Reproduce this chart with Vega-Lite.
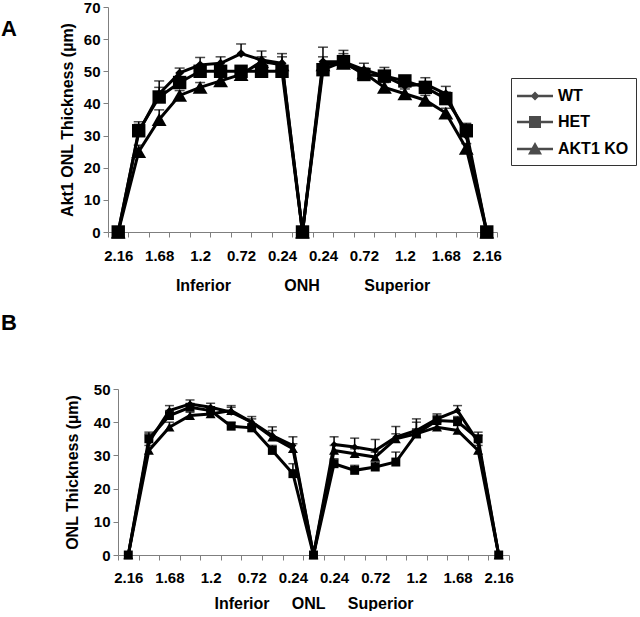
{
  "$schema": "https://vega.github.io/schema/vega-lite/v6.json",
  "padding": {"left": 1, "top": 0, "right": 0, "bottom": 0},
  "background": "white",
  "config": {
    "view": {"stroke": null},
    "font": "Liberation Sans",
    "axis": {"grid": false, "domainColor": "#7f7f7f", "tickColor": "#7f7f7f", "labelFont": "Liberation Sans", "labelFontWeight": "bold", "labelFontSize": 15, "labelColor": "black", "titleFont": "Liberation Sans", "titleFontWeight": "bold", "titleFontSize": 16, "titleColor": "black", "tickSize": 5, "domainWidth": 1, "tickWidth": 1},
    "title": {"font": "Liberation Sans", "fontWeight": "bold", "fontSize": 22, "color": "black"}
  },
  "datasets": {
    "a": [
      {"pos":1,"g":"WT","v":0,"hi":0},{"pos":2,"g":"WT","v":31,"hi":34.3},{"pos":3,"g":"WT","v":43,"hi":47},{"pos":4,"g":"WT","v":49.5,"hi":51},{"pos":5,"g":"WT","v":52,"hi":54.3},{"pos":6,"g":"WT","v":52.5,"hi":54.5},{"pos":7,"g":"WT","v":55.5,"hi":58.5},{"pos":8,"g":"WT","v":53.5,"hi":56.3},{"pos":9,"g":"WT","v":52.5,"hi":55.5},{"pos":10,"g":"WT","v":0,"hi":0},{"pos":11,"g":"WT","v":53,"hi":57.5},{"pos":12,"g":"WT","v":53,"hi":56.5},{"pos":13,"g":"WT","v":50.5,"hi":52.5},{"pos":14,"g":"WT","v":48.5,"hi":51.2},{"pos":15,"g":"WT","v":45.5,"hi":47.5},{"pos":16,"g":"WT","v":46,"hi":48},{"pos":17,"g":"WT","v":43,"hi":45.3},{"pos":18,"g":"WT","v":30,"hi":33.5},{"pos":19,"g":"WT","v":0,"hi":0},
      {"pos":1,"g":"HET","v":0,"hi":0},{"pos":2,"g":"HET","v":31.5,"hi":33.5},{"pos":3,"g":"HET","v":42,"hi":45},{"pos":4,"g":"HET","v":46.5,"hi":48},{"pos":5,"g":"HET","v":50,"hi":51.5},{"pos":6,"g":"HET","v":50,"hi":51.5},{"pos":7,"g":"HET","v":50,"hi":51},{"pos":8,"g":"HET","v":50,"hi":51.5},{"pos":9,"g":"HET","v":50,"hi":51.5},{"pos":10,"g":"HET","v":0,"hi":0},{"pos":11,"g":"HET","v":50.5,"hi":52},{"pos":12,"g":"HET","v":53,"hi":55.5},{"pos":13,"g":"HET","v":49,"hi":50.5},{"pos":14,"g":"HET","v":48.5,"hi":50},{"pos":15,"g":"HET","v":47,"hi":48.5},{"pos":16,"g":"HET","v":45,"hi":46.5},{"pos":17,"g":"HET","v":41.5,"hi":43.5},{"pos":18,"g":"HET","v":31.5,"hi":33.8},{"pos":19,"g":"HET","v":0,"hi":0},
      {"pos":1,"g":"AKT1 KO","v":0,"hi":0},{"pos":2,"g":"AKT1 KO","v":25,"hi":27},{"pos":3,"g":"AKT1 KO","v":35,"hi":38},{"pos":4,"g":"AKT1 KO","v":42.5,"hi":44},{"pos":5,"g":"AKT1 KO","v":45,"hi":46.5},{"pos":6,"g":"AKT1 KO","v":47,"hi":48.5},{"pos":7,"g":"AKT1 KO","v":49,"hi":50.5},{"pos":8,"g":"AKT1 KO","v":53,"hi":54.5},{"pos":9,"g":"AKT1 KO","v":52,"hi":54.5},{"pos":10,"g":"AKT1 KO","v":0,"hi":0},{"pos":11,"g":"AKT1 KO","v":52,"hi":54.5},{"pos":12,"g":"AKT1 KO","v":52.5,"hi":54},{"pos":13,"g":"AKT1 KO","v":49.5,"hi":51},{"pos":14,"g":"AKT1 KO","v":45,"hi":46.5},{"pos":15,"g":"AKT1 KO","v":43,"hi":44.5},{"pos":16,"g":"AKT1 KO","v":41,"hi":42.5},{"pos":17,"g":"AKT1 KO","v":37,"hi":38.5},{"pos":18,"g":"AKT1 KO","v":26,"hi":27.5},{"pos":19,"g":"AKT1 KO","v":0,"hi":0}
    ],
    "b": [
      {"pos":1,"g":"WT","v":0,"hi":0},{"pos":2,"g":"WT","v":34,"hi":37},{"pos":3,"g":"WT","v":43.5,"hi":45},{"pos":4,"g":"WT","v":45.5,"hi":46.7},{"pos":5,"g":"WT","v":44.5,"hi":45.7},{"pos":6,"g":"WT","v":43,"hi":44.5},{"pos":7,"g":"WT","v":40,"hi":41.7},{"pos":8,"g":"WT","v":36,"hi":38.6},{"pos":9,"g":"WT","v":33,"hi":35.6},{"pos":10,"g":"WT","v":0,"hi":0},{"pos":11,"g":"WT","v":33.3,"hi":35.6},{"pos":12,"g":"WT","v":32.5,"hi":35.2},{"pos":13,"g":"WT","v":31.5,"hi":34.8},{"pos":14,"g":"WT","v":35.5,"hi":38.7},{"pos":15,"g":"WT","v":37.5,"hi":41},{"pos":16,"g":"WT","v":41,"hi":42.5},{"pos":17,"g":"WT","v":43.5,"hi":45},{"pos":18,"g":"WT","v":34,"hi":36},{"pos":19,"g":"WT","v":0,"hi":0},
      {"pos":1,"g":"HET","v":0,"hi":0},{"pos":2,"g":"HET","v":35,"hi":36.5},{"pos":3,"g":"HET","v":42,"hi":43.5},{"pos":4,"g":"HET","v":44.5,"hi":45.5},{"pos":5,"g":"HET","v":43.5,"hi":44.5},{"pos":6,"g":"HET","v":38.8,"hi":40},{"pos":7,"g":"HET","v":38.3,"hi":39.5},{"pos":8,"g":"HET","v":31.5,"hi":33},{"pos":9,"g":"HET","v":24.5,"hi":27.5},{"pos":10,"g":"HET","v":0,"hi":0},{"pos":11,"g":"HET","v":27.5,"hi":29},{"pos":12,"g":"HET","v":25.5,"hi":27},{"pos":13,"g":"HET","v":26.5,"hi":28},{"pos":14,"g":"HET","v":28,"hi":31},{"pos":15,"g":"HET","v":36.5,"hi":40},{"pos":16,"g":"HET","v":40.5,"hi":42},{"pos":17,"g":"HET","v":40.2,"hi":41.7},{"pos":18,"g":"HET","v":35,"hi":37},{"pos":19,"g":"HET","v":0,"hi":0},
      {"pos":1,"g":"AKT1 KO","v":0,"hi":0},{"pos":2,"g":"AKT1 KO","v":31.5,"hi":33},{"pos":3,"g":"AKT1 KO","v":38.5,"hi":40},{"pos":4,"g":"AKT1 KO","v":42,"hi":43},{"pos":5,"g":"AKT1 KO","v":42.5,"hi":43.5},{"pos":6,"g":"AKT1 KO","v":43.5,"hi":45},{"pos":7,"g":"AKT1 KO","v":40,"hi":41},{"pos":8,"g":"AKT1 KO","v":35.5,"hi":37.5},{"pos":9,"g":"AKT1 KO","v":32,"hi":33.5},{"pos":10,"g":"AKT1 KO","v":0,"hi":0},{"pos":11,"g":"AKT1 KO","v":31.5,"hi":33},{"pos":12,"g":"AKT1 KO","v":30.5,"hi":32},{"pos":13,"g":"AKT1 KO","v":29.5,"hi":31},{"pos":14,"g":"AKT1 KO","v":35,"hi":36.5},{"pos":15,"g":"AKT1 KO","v":36.5,"hi":38},{"pos":16,"g":"AKT1 KO","v":38.5,"hi":40},{"pos":17,"g":"AKT1 KO","v":37.5,"hi":39},{"pos":18,"g":"AKT1 KO","v":31.5,"hi":33},{"pos":19,"g":"AKT1 KO","v":0,"hi":0}
    ]
  },
  "concat": [
    {
      "width": 389,
      "height": 225,
      "title": {"text": "A", "anchor": "start", "frame": "group", "dx": -107, "dy": 41, "offset": 0},
      "data": {"name": "a"},
      "encoding": {
        "x": {"field": "pos", "type": "quantitative", "scale": {"domain": [0.5, 19.5], "nice": false, "zero": false},
          "axis": {"values": [0.5,1,1.5,2,2.5,3,3.5,4,4.5,5,5.5,6,6.5,7,7.5,8,8.5,9,9.5,10,10.5,11,11.5,12,12.5,13,13.5,14,14.5,15,15.5,16,16.5,17,17.5,18,18.5,19,19.5],
            "labelExpr": "datum.value % 2 == 1 ? format(0.24 * abs(datum.value - 10), '.3~g') : ''",
            "tickOpacity": {"condition": {"test": "datum.value % 1 != 0", "value": 1}, "value": 0},
            "labelOverlap": false, "labelFlush": false, "labelPadding": 11, "titlePadding": 14,
            "title": "Inferior\u00a0\u00a0\u00a0\u00a0\u00a0\u00a0\u00a0\u00a0\u00a0\u00a0\u00a0\u00a0ONH\u00a0\u00a0\u00a0\u00a0\u00a0\u00a0\u00a0\u00a0\u00a0\u00a0Superior"}},
        "y": {"field": "v", "type": "quantitative", "scale": {"domain": [0, 70], "nice": false},
          "axis": {"values": [0,10,20,30,40,50,60,70], "title": "Akt1 ONL Thickness (µm)", "titlePadding": 8, "labelPadding": 3}}
      },
      "layer": [
        {"mark": {"type": "line", "color": "black", "strokeWidth": 3}, "encoding": {"detail": {"field": "g"}}},
        {"transform": [{"filter": "datum.hi > datum.v"}], "mark": {"type": "rule", "color": "black", "strokeWidth": 1.5}, "encoding": {"y2": {"field": "hi"}}},
        {"transform": [{"filter": "datum.hi > datum.v"}], "mark": {"type": "tick", "orient": "horizontal", "color": "black", "size": 10, "thickness": 1.5}, "encoding": {"y": {"field": "hi", "type": "quantitative"}}},
        {"transform": [{"filter": "datum.g == 'AKT1 KO'"}], "mark": {"type": "point", "shape": "triangle-up", "filled": true, "color": "black", "opacity": 1, "size": 220}},
        {"transform": [{"filter": "datum.g == 'HET'"}], "mark": {"type": "point", "shape": "square", "filled": true, "color": "black", "opacity": 1, "size": 180}},
        {"transform": [{"filter": "datum.g == 'WT'"}], "mark": {"type": "point", "shape": "diamond", "filled": true, "color": "black", "opacity": 1, "size": 80}},
        {"transform": [{"filter": "false"}], "mark": {"type": "point", "filled": true, "color": "black"},
          "encoding": {"shape": {"field": "g", "type": "nominal",
            "scale": {"domain": ["WT", "HET", "AKT1 KO"], "range": ["M-1.2,-0.13H2.4V0.13H-1.2ZM0.6,-0.45L1.05,0L0.6,0.45L0.15,0Z", "M-1.2,-0.13H2.4V0.13H-1.2ZM0,-0.6H1.2V0.6H0Z", "M-1.2,-0.13H2.4V0.13H-1.2ZM0.6,-0.7L1.3,0.55H-0.1Z"]},
            "legend": {"orient": "none", "legendX": 403, "legendY": 71, "title": null, "padding": 7, "strokeColor": "#333333", "fillColor": "white", "symbolSize": 400, "labelOffset": 18, "rowPadding": 7, "labelFontSize": 16, "labelFontWeight": "bold", "labelFont": "Liberation Sans", "labelColor": "black",
              "encode": {"symbols": {"update": {"fill": {"value": "black"}, "stroke": {"value": "black"}, "strokeWidth": {"value": 0.5}, "opacity": {"value": 1}}}}}}}}
      ]
    },
    {
      "width": 401,
      "height": 166,
      "title": {"text": "B", "anchor": "start", "frame": "group", "dx": -107, "offset": 47},
      "data": {"name": "b"},
      "encoding": {
        "x": {"field": "pos", "type": "quantitative", "scale": {"domain": [0.5, 19.5], "nice": false, "zero": false, "range": [10, 401]},
          "axis": {"values": [0.5,1,1.5,2,2.5,3,3.5,4,4.5,5,5.5,6,6.5,7,7.5,8,8.5,9,9.5,10,10.5,11,11.5,12,12.5,13,13.5,14,14.5,15,15.5,16,16.5,17,17.5,18,18.5,19,19.5],
            "labelExpr": "datum.value % 2 == 1 ? format(0.24 * abs(datum.value - 10), '.3~g') : ''",
            "tickOpacity": {"condition": {"test": "datum.value % 1 != 0", "value": 1}, "value": 0},
            "labelOverlap": false, "labelFlush": false, "labelPadding": 10, "titlePadding": 10,
            "title": "Inferior\u00a0\u00a0\u00a0\u00a0\u00a0ONL\u00a0\u00a0\u00a0\u00a0\u00a0Superior"}},
        "y": {"field": "v", "type": "quantitative", "scale": {"domain": [0, 50], "nice": false},
          "axis": {"values": [0,10,20,30,40,50], "title": "ONL Thickness (µm)", "titlePadding": 13, "labelPadding": 3, "offset": -10}}
      },
      "layer": [
        {"mark": {"type": "line", "color": "black", "strokeWidth": 3}, "encoding": {"detail": {"field": "g"}}},
        {"transform": [{"filter": "datum.hi > datum.v"}], "mark": {"type": "rule", "color": "black", "strokeWidth": 1.5}, "encoding": {"y2": {"field": "hi"}}},
        {"transform": [{"filter": "datum.hi > datum.v"}], "mark": {"type": "tick", "orient": "horizontal", "color": "black", "size": 9, "thickness": 1.5}, "encoding": {"y": {"field": "hi", "type": "quantitative"}}},
        {"transform": [{"filter": "datum.g == 'AKT1 KO'"}], "mark": {"type": "point", "shape": "triangle-up", "filled": true, "color": "black", "opacity": 1, "size": 100}},
        {"transform": [{"filter": "datum.g == 'HET'"}], "mark": {"type": "point", "shape": "square", "filled": true, "color": "black", "opacity": 1, "size": 80}},
        {"transform": [{"filter": "datum.g == 'WT'"}], "mark": {"type": "point", "shape": "diamond", "filled": true, "color": "black", "opacity": 1, "size": 50}},
        {"transform": [{"filter": "false"}], "mark": {"type": "point", "filled": true, "color": "black"},
          "encoding": {"shape": {"field": "g", "type": "nominal",
            "scale": {"domain": ["WT", "HET", "AKT1 KO"], "range": ["M-1.2,-0.13H2.4V0.13H-1.2ZM0.6,-0.4L1.0,0L0.6,0.4L0.2,0Z", "M-1.2,-0.13H2.4V0.13H-1.2ZM0.1,-0.5H1.1V0.5H0.1Z", "M-1.2,-0.13H2.4V0.13H-1.2ZM0.6,-0.6L1.2,0.45H0Z"]},
            "legend": {"orient": "none", "legendX": 415, "legendY": 44, "title": null, "padding": 7, "strokeColor": "#333333", "fillColor": "white", "symbolSize": 400, "labelOffset": 18, "rowPadding": 6, "labelFontSize": 16, "labelFontWeight": "bold", "labelFont": "Liberation Sans", "labelColor": "black",
              "encode": {"symbols": {"update": {"fill": {"value": "black"}, "stroke": {"value": "black"}, "strokeWidth": {"value": 0.5}, "opacity": {"value": 1}}}}}}}}
      ]
    }
  ],
  "columns": 1,
  "spacing": 19
}
